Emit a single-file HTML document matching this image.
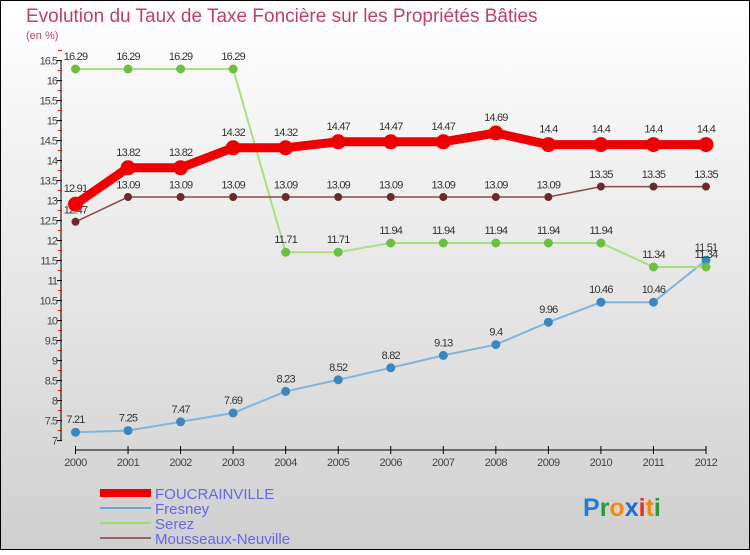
<!DOCTYPE html>
<html><head><meta charset="utf-8"><style>
body{margin:0}
#c{width:750px;height:550px;position:relative;font-family:"Liberation Sans",sans-serif}
</style></head><body>
<div id="c">
<svg id="s" width="750" height="550">
<defs><linearGradient id="bg" x1="0" y1="0" x2="0" y2="1"><stop offset="0" stop-color="#ffffff"/><stop offset="1" stop-color="#cfcfcf"/></linearGradient></defs>
<rect x="0.5" y="0.5" width="749" height="549" fill="url(#bg)" stroke="#000"/>
<text x="26" y="22" font-size="19" fill="#c0406a">Evolution du Taux de Taxe Foncière sur les Propriétés Bâties</text>
<text x="26" y="39" font-size="11" fill="#c0406a">(en %)</text>
<g id="axes"></g><g id="series"></g>
<g>
<rect x="100" y="489" width="51" height="8" fill="#ee0000"/>
<text x="155" y="499" font-size="15" fill="#6666ee">FOUCRAINVILLE</text>
<line x1="100" y1="508" x2="151" y2="508" stroke="#6fa6d0" stroke-width="2"/>
<text x="155" y="514" font-size="15" fill="#6666ee">Fresney</text>
<line x1="100" y1="523" x2="151" y2="523" stroke="#99dd77" stroke-width="2"/>
<text x="155" y="529" font-size="15" fill="#6666ee">Serez</text>
<line x1="100" y1="538" x2="151" y2="538" stroke="#996666" stroke-width="2"/>
<text x="155" y="544" font-size="15" fill="#6666ee">Mousseaux-Neuville</text>
</g>
<text x="583" y="516" font-size="25" font-weight="bold"><tspan fill="#1a7fd6">P</tspan><tspan fill="#2a9a3a">r</tspan><tspan fill="#f08a10">o</tspan><tspan fill="#1a6fd0">x</tspan><tspan fill="#e83020">i</tspan><tspan fill="#f08a10">t</tspan><tspan fill="#2a9a3a">i</tspan></text>
</svg></div>
<script>
const years=[2000,2001,2002,2003,2004,2005,2006,2007,2008,2009,2010,2011,2012];
const foucrainville=[12.91,13.82,13.82,14.32,14.32,14.47,14.47,14.47,14.69,14.4,14.4,14.4,14.4];
const fresney=[7.21,7.25,7.47,7.69,8.23,8.52,8.82,9.13,9.4,9.96,10.46,10.46,11.51];
const serez=[16.29,16.29,16.29,16.29,11.71,11.71,11.94,11.94,11.94,11.94,11.94,11.34,11.34];
const mousseaux=[12.47,13.09,13.09,13.09,13.09,13.09,13.09,13.09,13.09,13.09,13.35,13.35,13.35];
const yTicks=[7,7.5,8,8.5,9,9.5,10,10.5,11,11.5,12,12.5,13,13.5,14,14.5,15,15.5,16,16.5];
const NS="http://www.w3.org/2000/svg";
const X=i=>75.5+i*(706-75.5)/(years.length-1);
const Y=v=>60.6+(16.5-v)*40;
function mk(t,a,p){const e=document.createElementNS(NS,t);for(const k in a)e.setAttribute(k,a[k]);p.appendChild(e);return e;}
const ax=document.getElementById('axes');
let l=mk('line',{x1:61,y1:Y(16.5),x2:61,y2:Y(7),stroke:'#000'},ax);


yTicks.forEach(v=>{
 mk('line',{x1:57,y1:Y(v),x2:62,y2:Y(v),stroke:'#000'},ax);
 mk('line',{x1:58,y1:Y(v)-10,x2:62,y2:Y(v)-10,stroke:'#e00'},ax);
 const t=mk('text',{x:57,y:Y(v)+4,'font-size':11,'text-anchor':'end',fill:'#444','letter-spacing':'-1'},ax);
 
 
 t.textContent=String(v);
});
l=mk('line',{x1:X(0),y1:450,x2:X(years.length-1),y2:450,stroke:'#000'},ax);


years.forEach((y,i)=>{
 mk('line',{x1:X(i),y1:446,x2:X(i),y2:454,stroke:'#000'},ax);
 const t=mk('text',{x:X(i),y:466,'font-size':11,'text-anchor':'middle',fill:'#444','letter-spacing':'-0.5'},ax);
 
 
 t.textContent=y;
});
const sg=document.getElementById('series');
function series(name,vals,col,dot,w,r){
 const g=mk('g',{},sg);
 
 
 const pl=mk('polyline',{points:vals.map((v,i)=>X(i)+','+Y(v)).join(' '),fill:'none',stroke:col,'stroke-width':w},g);
 
 
 vals.forEach((v,i)=>{
  const c=mk('circle',{cx:X(i),cy:Y(v),r:r,fill:dot,stroke:dot},g);
  
  
  const t=mk('text',{x:X(i),y:Y(v)-(r+5),'font-size':11,'text-anchor':'middle',fill:'#333','letter-spacing':'-0.8'},g);
  
  
  t.textContent=String(v);
 });
}
series('fresney',fresney,'#80b4dc','#3a87c0',2,4);
series('serez',serez,'#a8e080','#6cc040',2,4);
series('mousseaux',mousseaux,'#8a4a4a','#6a2a2a',1.5,3.5);
series('foucrainville',foucrainville,'#ee0000','#ee0000',9,7);
</script>
</body></html>
